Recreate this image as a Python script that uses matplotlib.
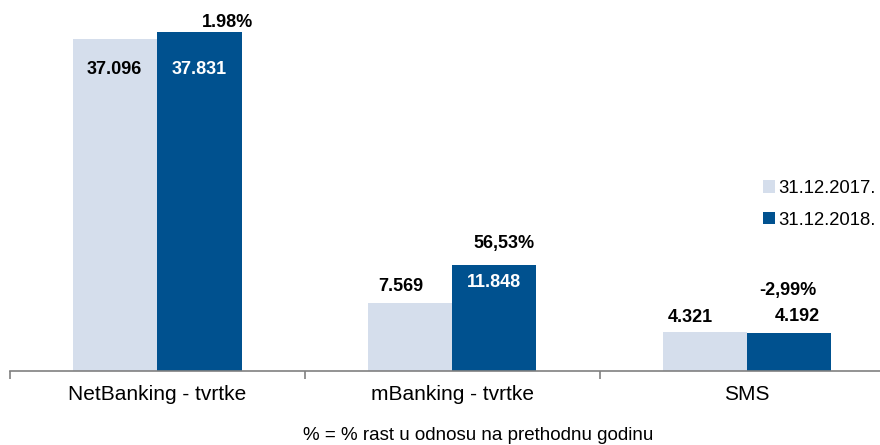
import matplotlib
matplotlib.use("Agg")
import matplotlib.pyplot as plt
import numpy as np

plt.rcParams["font.family"] = ["Liberation Sans", "DejaVu Sans"]

# --- Data -------------------------------------------------------------------
categories = ["NetBanking - tvrtke", "mBanking - tvrtke", "SMS"]
series_names = ["31.12.2017.", "31.12.2018."]
values_2017 = [37.096, 7.569, 4.321]
values_2018 = [37.831, 11.848, 4.192]
labels_2017 = ["37.096", "7.569", "4.321"]
labels_2018 = ["37.831", "11.848", "4.192"]
growth_labels = ["1.98%", "56,53%", "-2,99%"]
footnote = "% = % rast u odnosu na prethodnu godinu"

LIGHT = "#D5DEEC"
DARK = "#00518F"

# label offsets in points (dx, dy) relative to bar top centre
off_2017 = [(-1, -22), (-7, 12), (-11, 11)]
off_2018 = [(0, -27), (0, -13), (6, 12)]
off_growth = [(20, 7), (7, 15), (-1, 31)]
colors_2017 = ["black", "black", "black"]
colors_2018 = ["white", "white", "black"]

# --- Plot -------------------------------------------------------------------
fig = plt.figure(figsize=(8.8, 4.45), dpi=100)
ax = fig.add_axes([10 / 880, 74 / 445, 870 / 880, 371 / 445])

x = np.arange(len(categories))
w = 0.285
b1 = ax.bar(x - w / 2, values_2017, w, color=LIGHT, label=series_names[0])
b2 = ax.bar(x + w / 2, values_2018, w, color=DARK, label=series_names[1])

ax.set_xlim(-0.5, 2.45)
ax.set_ylim(0, 41.4)

for i in range(len(categories)):
    ax.annotate(labels_2017[i], (x[i] - w / 2, values_2017[i]),
                textcoords="offset points", xytext=off_2017[i],
                ha="center", va="center", fontsize=13, fontweight="bold",
                color=colors_2017[i])
    ax.annotate(labels_2018[i], (x[i] + w / 2, values_2018[i]),
                textcoords="offset points", xytext=off_2018[i],
                ha="center", va="center", fontsize=13, fontweight="bold",
                color=colors_2018[i])
    ax.annotate(growth_labels[i], (x[i] + w / 2, values_2018[i]),
                textcoords="offset points", xytext=off_growth[i],
                ha="center", va="center", fontsize=13, fontweight="bold",
                color="black")

for s in ["top", "right", "left"]:
    ax.spines[s].set_visible(False)
ax.spines["bottom"].set_color("#808080")
ax.spines["bottom"].set_linewidth(1.2)
ax.set_yticks([])
ax.set_xticks([-0.5, 0.5, 1.5])
ax.set_xticklabels([])
ax.tick_params(axis="x", which="major", length=6, color="#808080", width=1.2)
ax.set_xticks(x, minor=True)
ax.set_xticklabels(categories, minor=True, fontsize=15)
ax.tick_params(axis="x", which="minor", length=0, pad=10)

ax.legend(handles=[b1, b2], loc="upper left", bbox_to_anchor=(0.857, 0.535),
          frameon=False, fontsize=13.3, handlelength=0.65, handleheight=0.65,
          handletextpad=0.2, labelspacing=0.8, borderaxespad=0)

fig.text(478 / 880, 1 - 435 / 445, footnote, ha="center", va="center",
         fontsize=13.5)

fig.savefig("out.png", dpi=100)
